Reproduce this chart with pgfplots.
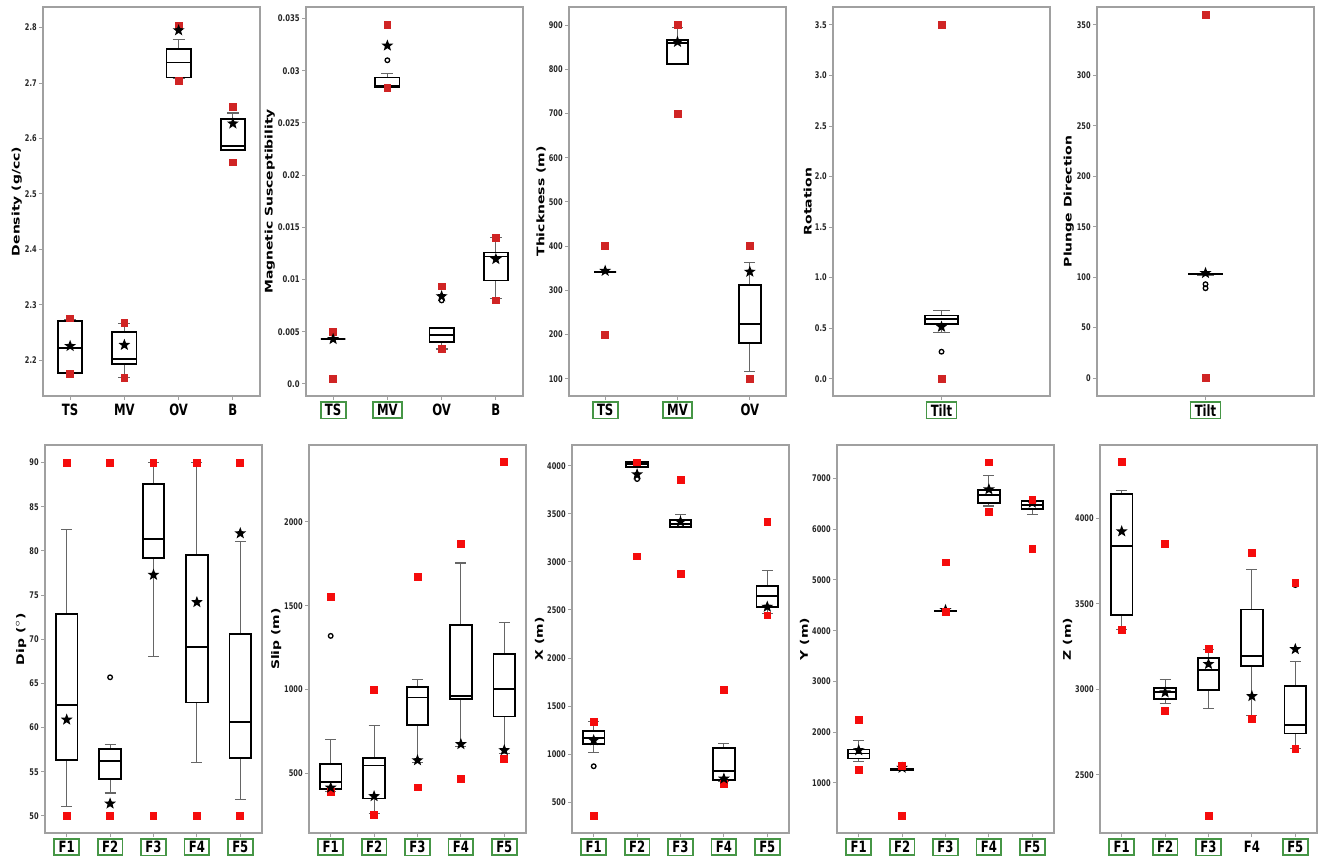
\documentclass[border=0pt]{standalone}
\usepackage{fontspec}
\setmainfont{DejaVu Sans}
\usepackage{graphicx}
\usepackage{pgfplots}
\pgfplotsset{compat=1.18}
\definecolor{topred}{RGB}{208,36,36}
\definecolor{botred}{RGB}{245,12,12}
\definecolor{gbox}{RGB}{70,150,70}
\definecolor{frame}{RGB}{160,160,160}
\setlength{\fboxsep}{0.8bp}
\setlength{\fboxrule}{0.9bp}
\newcommand{\sx}[1]{\scalebox{0.75}[1]{#1}}
\newcommand{\sy}[1]{\scalebox{1}[0.75]{#1}}
\newcommand{\gb}[1]{\fcolorbox{gbox}{white}{\hspace{0.9bp}\sx{#1}\hspace{0.9bp}}}
\newcommand{\nb}[1]{\raisebox{0pt}[\dimexpr\height+1.7bp\relax][\dimexpr\depth+1.7bp\relax]{\sx{#1}}}
\pgfdeclareplotmark{fstar}{%
 \pgfpathmoveto{\pgfpointpolar{90}{\pgfplotmarksize}}%
 \pgfpathlineto{\pgfpointpolar{126}{0.42\pgfplotmarksize}}%
 \pgfpathlineto{\pgfpointpolar{162}{\pgfplotmarksize}}%
 \pgfpathlineto{\pgfpointpolar{198}{0.42\pgfplotmarksize}}%
 \pgfpathlineto{\pgfpointpolar{234}{\pgfplotmarksize}}%
 \pgfpathlineto{\pgfpointpolar{270}{0.42\pgfplotmarksize}}%
 \pgfpathlineto{\pgfpointpolar{306}{\pgfplotmarksize}}%
 \pgfpathlineto{\pgfpointpolar{342}{0.42\pgfplotmarksize}}%
 \pgfpathlineto{\pgfpointpolar{18}{\pgfplotmarksize}}%
 \pgfpathlineto{\pgfpointpolar{54}{0.42\pgfplotmarksize}}%
 \pgfpathclose
 \pgfusepathqfill}
\pgfplotsset{
  panel/.style={
    scale only axis, width=108.5bp, anchor=south west,
    axis line style={draw=frame, line width=0.6bp},
    tick pos=left, tick align=outside, major tick length=2bp,
    tick style={draw=frame, line width=0.5bp},
    yticklabel={\scalebox{0.72}[1]{\pgfmathprintnumber{\tick}}},
    yticklabel style={font=\bfseries\fontsize{4.6}{5}\selectfont, text=black!85, inner sep=1bp},
    xticklabel style={font=\bfseries\fontsize{7.8}{8}\selectfont, inner sep=1bp, yshift=0.8bp},
    ylabel style={font=\bfseries\fontsize{7}{8}\selectfont},
    ylabel shift=-3bp,
    scaled y ticks=false,
    /pgf/number format/assume math mode=true,
    /pgf/number format/set thousands separator={},
    clip=false,
  },
  wh/.style={draw=black!60, line width=0.55bp, mark=none},
  bxs/.style={draw=black, fill=white, line width=0.9bp, mark=none},
  md/.style={draw=black, line width=0.9bp, mark=none},
  stars/.style={only marks, mark=fstar, mark size=3.1bp, black},
  sqt/.style={only marks, mark=square*, mark size=1.7bp, topred, mark options={draw=topred, fill=topred}},
  sqb/.style={only marks, mark=square*, mark size=1.7bp, botred, mark options={draw=botred, fill=botred}},
  outl/.style={only marks, mark=o, mark size=1.15bp, black, mark options={line width=0.65bp}},
}
% whiskers: x, cap left, cap right, lower whisker, lower quartile, upper quartile, upper whisker
\newcommand{\wk}[7]{%
\addplot[wh] coordinates {(#1,#4) (#1,#5)};
\addplot[wh] coordinates {(#1,#6) (#1,#7)};
\addplot[wh] coordinates {(#2,#4) (#3,#4)};
\addplot[wh] coordinates {(#2,#7) (#3,#7)};}
% box: left, right, lower quartile, median, upper quartile
\newcommand{\bm}[5]{%
\addplot[bxs] coordinates {(#1,#3) (#2,#3) (#2,#5) (#1,#5)} --cycle;
\addplot[md] coordinates {(#1,#4) (#2,#4)};}
\begin{document}
\begin{tikzpicture}
\useasboundingbox (0,0) rectangle (661bp,429bp);
% ---------- Density
\begin{axis}[panel, at={(21.5bp,231bp)}, height=194.5bp,
  xmin=0.5, xmax=4.5, ymin=2.136, ymax=2.837,
  xtick={1,2,3,4}, xticklabels={\nb{TS},\nb{MV},\nb{OV},\nb{B}},
  ytick={2.2,2.3,2.4,2.5,2.6,2.7,2.8},
  yticklabel style={/pgf/number format/.cd, fixed, fixed zerofill, precision=1},
  ylabel={\sy{Density (g/cc)}}]
\wk{1}{0.8875}{1.1125}{2.178}{2.178}{2.271}{2.274}\bm{0.775}{1.225}{2.178}{2.222}{2.271}
\wk{2}{1.8875}{2.1125}{2.170}{2.193}{2.251}{2.266}\bm{1.775}{2.225}{2.193}{2.203}{2.251}
\wk{3}{2.8875}{3.1125}{2.708}{2.710}{2.761}{2.778}\bm{2.775}{3.225}{2.710}{2.737}{2.761}
\wk{4}{3.8875}{4.1125}{2.578}{2.579}{2.635}{2.646}\bm{3.775}{4.225}{2.579}{2.587}{2.635}
\addplot[sqt] coordinates {(1,2.276) (1,2.176) (2,2.268) (2,2.168) (3,2.804) (3,2.704) (4,2.657) (4,2.557)};
\addplot[stars] coordinates {(1,2.226) (2,2.228) (3,2.795) (4,2.627)};
\end{axis}
% ---------- Magnetic susceptibility
\begin{axis}[panel, at={(153bp,231bp)}, height=194.5bp,
  xmin=0.5, xmax=4.5, ymin=-0.00115, ymax=0.0361,
  xtick={1,2,3,4}, xticklabels={\gb{TS},\gb{MV},\nb{OV},\nb{B}},
  ytick={0,0.005,0.01,0.015,0.02,0.025,0.03,0.035},
  yticklabels={\sx{0.0},\sx{0.005},\sx{0.01},\sx{0.015},\sx{0.02},\sx{0.025},\sx{0.03},\sx{0.035}},
  ylabel={\sy{Magnetic Susceptibility}}]
\wk{1}{0.8875}{1.1125}{0.0043}{0.0043}{0.0043}{0.0043}\bm{0.775}{1.225}{0.0043}{0.0043}{0.0043}
\wk{2}{1.8875}{2.1125}{0.0284}{0.0284}{0.02935}{0.0297}\bm{1.775}{2.225}{0.0284}{0.0285}{0.02935}
\wk{3}{2.8875}{3.1125}{0.00335}{0.0040}{0.00533}{0.00533}\bm{2.775}{3.225}{0.0040}{0.0047}{0.00533}
\wk{4}{3.8875}{4.1125}{0.0082}{0.0099}{0.0126}{0.0140}\bm{3.775}{4.225}{0.0099}{0.0122}{0.0126}
\addplot[outl] coordinates {(2,0.031) (3,0.0080)};
\addplot[sqt] coordinates {(1,0.005) (1,0.0005) (2,0.03436) (2,0.02836) (3,0.00935) (3,0.00335) (4,0.0140) (4,0.0080)};
\addplot[stars] coordinates {(1,0.0043) (2,0.0324) (3,0.0084) (4,0.01196)};
\end{axis}
% ---------- Thickness
\begin{axis}[panel, at={(284.5bp,231bp)}, height=194.5bp,
  xmin=0.5, xmax=3.5, ymin=61, ymax=941,
  xtick={1,2,3}, xticklabels={\gb{TS},\gb{MV},\nb{OV}},
  ytick={100,200,300,400,500,600,700,800,900},
  ylabel={\sy{Thickness (m)}}]
\wk{1}{0.925}{1.075}{342}{342}{342}{342}\bm{0.85}{1.15}{342}{342}{342}
\wk{2}{1.925}{2.075}{812}{812}{867}{895}\bm{1.85}{2.15}{812}{859}{867}
\wk{3}{2.925}{3.075}{117}{180}{312}{364}\bm{2.85}{3.15}{180}{223}{312}
\addplot[sqt] coordinates {(1,400) (1,200) (2,900) (2,700) (3,400) (3,100)};
\addplot[stars] coordinates {(1,344) (2,862) (3,342)};
\end{axis}
% ---------- Rotation
\begin{axis}[panel, at={(416.5bp,231bp)}, height=194.5bp,
  xmin=0.5, xmax=1.5, ymin=-0.171, ymax=3.678,
  xtick={1}, xticklabels={\gb{Tilt}},
  ytick={0,0.5,1,1.5,2,2.5,3,3.5},
  yticklabel style={/pgf/number format/.cd, fixed, fixed zerofill, precision=1},
  ylabel={\sy{Rotation}}]
\wk{1}{0.9625}{1.0375}{0.455}{0.541}{0.626}{0.672}\bm{0.925}{1.075}{0.541}{0.587}{0.626}
\addplot[outl] coordinates {(1,0.267)};
\addplot[sqt] coordinates {(1,3.5) (1,0)};
\addplot[stars] coordinates {(1,0.514)};
\end{axis}
% ---------- Plunge direction
\begin{axis}[panel, at={(548.5bp,231bp)}, height=194.5bp,
  xmin=0.5, xmax=1.5, ymin=-17.8, ymax=367.8,
  xtick={1}, xticklabels={\gb{Tilt}},
  ytick={0,50,100,150,200,250,300,350},
  ylabel={\sy{Plunge Direction}}]
\wk{1}{0.9625}{1.0375}{102}{103}{103.5}{104}\bm{0.925}{1.075}{103}{103}{103.5}
\addplot[outl] coordinates {(1,93) (1,89)};
\addplot[sqt] coordinates {(1,360) (1,0)};
\addplot[stars] coordinates {(1,104)};
\end{axis}
% ---------- Dip
\begin{axis}[panel, at={(22.5bp,12.5bp)}, height=194bp,
  xmin=0.5, xmax=5.5, ymin=48.07, ymax=92.0,
  xtick={1,2,3,4,5}, xticklabels={\gb{F1},\gb{F2},\gb{F3},\gb{F4},\gb{F5}},
  ytick={50,55,60,65,70,75,80,85,90},
  ylabel={\sy{Dip ($^\circ$)}}]
\wk{1}{0.875}{1.125}{51.1}{56.3}{72.9}{82.4}\bm{0.75}{1.25}{56.3}{62.6}{72.9}
\wk{2}{1.875}{2.125}{52.6}{54.2}{57.6}{58.1}\bm{1.75}{2.25}{54.2}{56.2}{57.6}
\wk{3}{2.875}{3.125}{68.1}{79.2}{87.6}{90}\bm{2.75}{3.25}{79.2}{81.35}{87.6}
\wk{4}{3.875}{4.125}{56.1}{62.85}{79.5}{90}\bm{3.75}{4.25}{62.85}{69.15}{79.5}
\wk{5}{4.875}{5.125}{51.85}{56.6}{70.6}{81.1}\bm{4.75}{5.25}{56.6}{60.6}{70.6}
\addplot[outl] coordinates {(2,65.7)};
\addplot[sqb] coordinates {(1,90) (1,50) (2,90) (2,50) (3,90) (3,50) (4,90) (4,50) (5,90) (5,50)};
\addplot[stars] coordinates {(1,60.9) (2,51.4) (3,77.3) (4,74.2) (5,82.0)};
\end{axis}
% ---------- Slip
\begin{axis}[panel, at={(154.5bp,12.5bp)}, height=194bp,
  xmin=0.5, xmax=5.5, ymin=146, ymax=2457,
  xtick={1,2,3,4,5}, xticklabels={\gb{F1},\gb{F2},\gb{F3},\gb{F4},\gb{F5}},
  ytick={500,1000,1500,2000},
  ylabel={\sy{Slip (m)}}]
\wk{1}{0.875}{1.125}{395}{406}{557}{703}\bm{0.75}{1.25}{406}{450}{557}
\wk{2}{1.875}{2.125}{260}{351}{593}{788}\bm{1.75}{2.25}{351}{548}{593}
\wk{3}{2.875}{3.125}{566}{790}{1016}{1060}\bm{2.75}{3.25}{790}{953}{1016}
\wk{4}{3.875}{4.125}{659}{945}{1384}{1754}\bm{3.75}{4.25}{945}{961}{1384}
\wk{5}{4.875}{5.125}{619}{840}{1213}{1400}\bm{4.75}{5.25}{840}{1006}{1213}
\addplot[outl] coordinates {(1,1320)};
\addplot[sqb] coordinates {(1,1553) (1,391) (2,996) (2,252) (3,1670) (3,418) (4,1869) (4,468) (5,2354) (5,589)};
\addplot[stars] coordinates {(1,416) (2,365) (3,579) (4,675) (5,639)};
\end{axis}
% ---------- X
\begin{axis}[panel, at={(286bp,12.5bp)}, height=194bp,
  xmin=0.5, xmax=5.5, ymin=181, ymax=4215,
  xtick={1,2,3,4,5}, xticklabels={\gb{F1},\gb{F2},\gb{F3},\gb{F4},\gb{F5}},
  ytick={500,1000,1500,2000,2500,3000,3500,4000},
  ylabel={\sy{X (m)}}]
\wk{1}{0.875}{1.125}{1017}{1104}{1239}{1336}\bm{0.75}{1.25}{1104}{1170}{1239}
\wk{2}{1.875}{2.125}{3979}{3990}{4035}{4035}\bm{1.75}{2.25}{3990}{4014}{4035}
\wk{3}{2.875}{3.125}{3365}{3365}{3438}{3490}\bm{2.75}{3.25}{3365}{3393}{3438}
\wk{4}{3.875}{4.125}{719}{733}{1065}{1107}\bm{3.75}{4.25}{733}{826}{1065}
\wk{5}{4.875}{5.125}{2463}{2533}{2751}{2911}\bm{4.75}{5.25}{2533}{2643}{2751}
\addplot[outl] coordinates {(1,875) (2,3861)};
\addplot[sqb] coordinates {(1,1336) (1,358) (2,4035) (2,3057) (3,3851) (3,2876) (4,1669) (4,694) (5,3417) (5,2443)};
\addplot[stars] coordinates {(1,1145) (2,3910) (3,3417) (4,746) (5,2533)};
\end{axis}
% ---------- Y
\begin{axis}[panel, at={(418.5bp,12.5bp)}, height=194bp,
  xmin=0.5, xmax=5.5, ymin=15, ymax=7657,
  xtick={1,2,3,4,5}, xticklabels={\gb{F1},\gb{F2},\gb{F3},\gb{F4},\gb{F5}},
  ytick={1000,2000,3000,4000,5000,6000,7000},
  ylabel={\sy{Y (m)}}]
\wk{1}{0.875}{1.125}{1415}{1481}{1658}{1842}\bm{0.75}{1.25}{1481}{1580}{1658}
\wk{2}{1.875}{2.125}{1245}{1250}{1268}{1275}\bm{1.75}{2.25}{1250}{1260}{1268}
\wk{3}{2.875}{3.125}{4370}{4380}{4392}{4400}\bm{2.75}{3.25}{4380}{4385}{4392}
\wk{4}{3.875}{4.125}{6455}{6520}{6770}{7053}\bm{3.75}{4.25}{6520}{6665}{6770}
\wk{5}{4.875}{5.125}{6290}{6402}{6553}{6553}\bm{4.75}{5.25}{6402}{6468}{6553}
\addplot[stars] coordinates {(1,1645) (2,1300) (3,4405) (4,6783) (5,6520)};
\addplot[sqb] coordinates {(1,2237) (1,1258) (2,1330) (2,351) (3,5344) (3,4372) (4,7315) (4,6336) (5,6573) (5,5607)};
\end{axis}
% ---------- Z
\begin{axis}[panel, at={(550bp,12.5bp)}, height=194bp,
  xmin=0.5, xmax=5.5, ymin=2160, ymax=4429,
  xtick={1,2,3,4,5}, xticklabels={\gb{F1},\gb{F2},\gb{F3},\nb{F4},\gb{F5}},
  ytick={2500,3000,3500,4000},
  ylabel={\sy{Z (m)}}]
\wk{1}{0.875}{1.125}{3352}{3434}{4142}{4162}\bm{0.75}{1.25}{3434}{3838}{4142}
\wk{2}{1.875}{2.125}{2918}{2945}{3009}{3060}\bm{1.75}{2.25}{2945}{2986}{3009}
\wk{3}{2.875}{3.125}{2888}{2996}{3185}{3235}\bm{2.75}{3.25}{2996}{3112}{3185}
\wk{4}{3.875}{4.125}{2849}{3136}{3467}{3702}\bm{3.75}{4.25}{3136}{3194}{3467}
\wk{5}{4.875}{5.125}{2654}{2742}{3019}{3165}\bm{4.75}{5.25}{2742}{2793}{3019}
\addplot[outl] coordinates {(5,3610)};
\addplot[sqb] coordinates {(1,4328) (1,3350) (2,3850) (2,2875) (3,3235) (3,2260) (4,3799) (4,2826) (5,3624) (5,2650)};
\addplot[stars] coordinates {(1,3924) (2,2982) (3,3148) (4,2960) (5,3235)};
\end{axis}
\end{tikzpicture}
\end{document}
